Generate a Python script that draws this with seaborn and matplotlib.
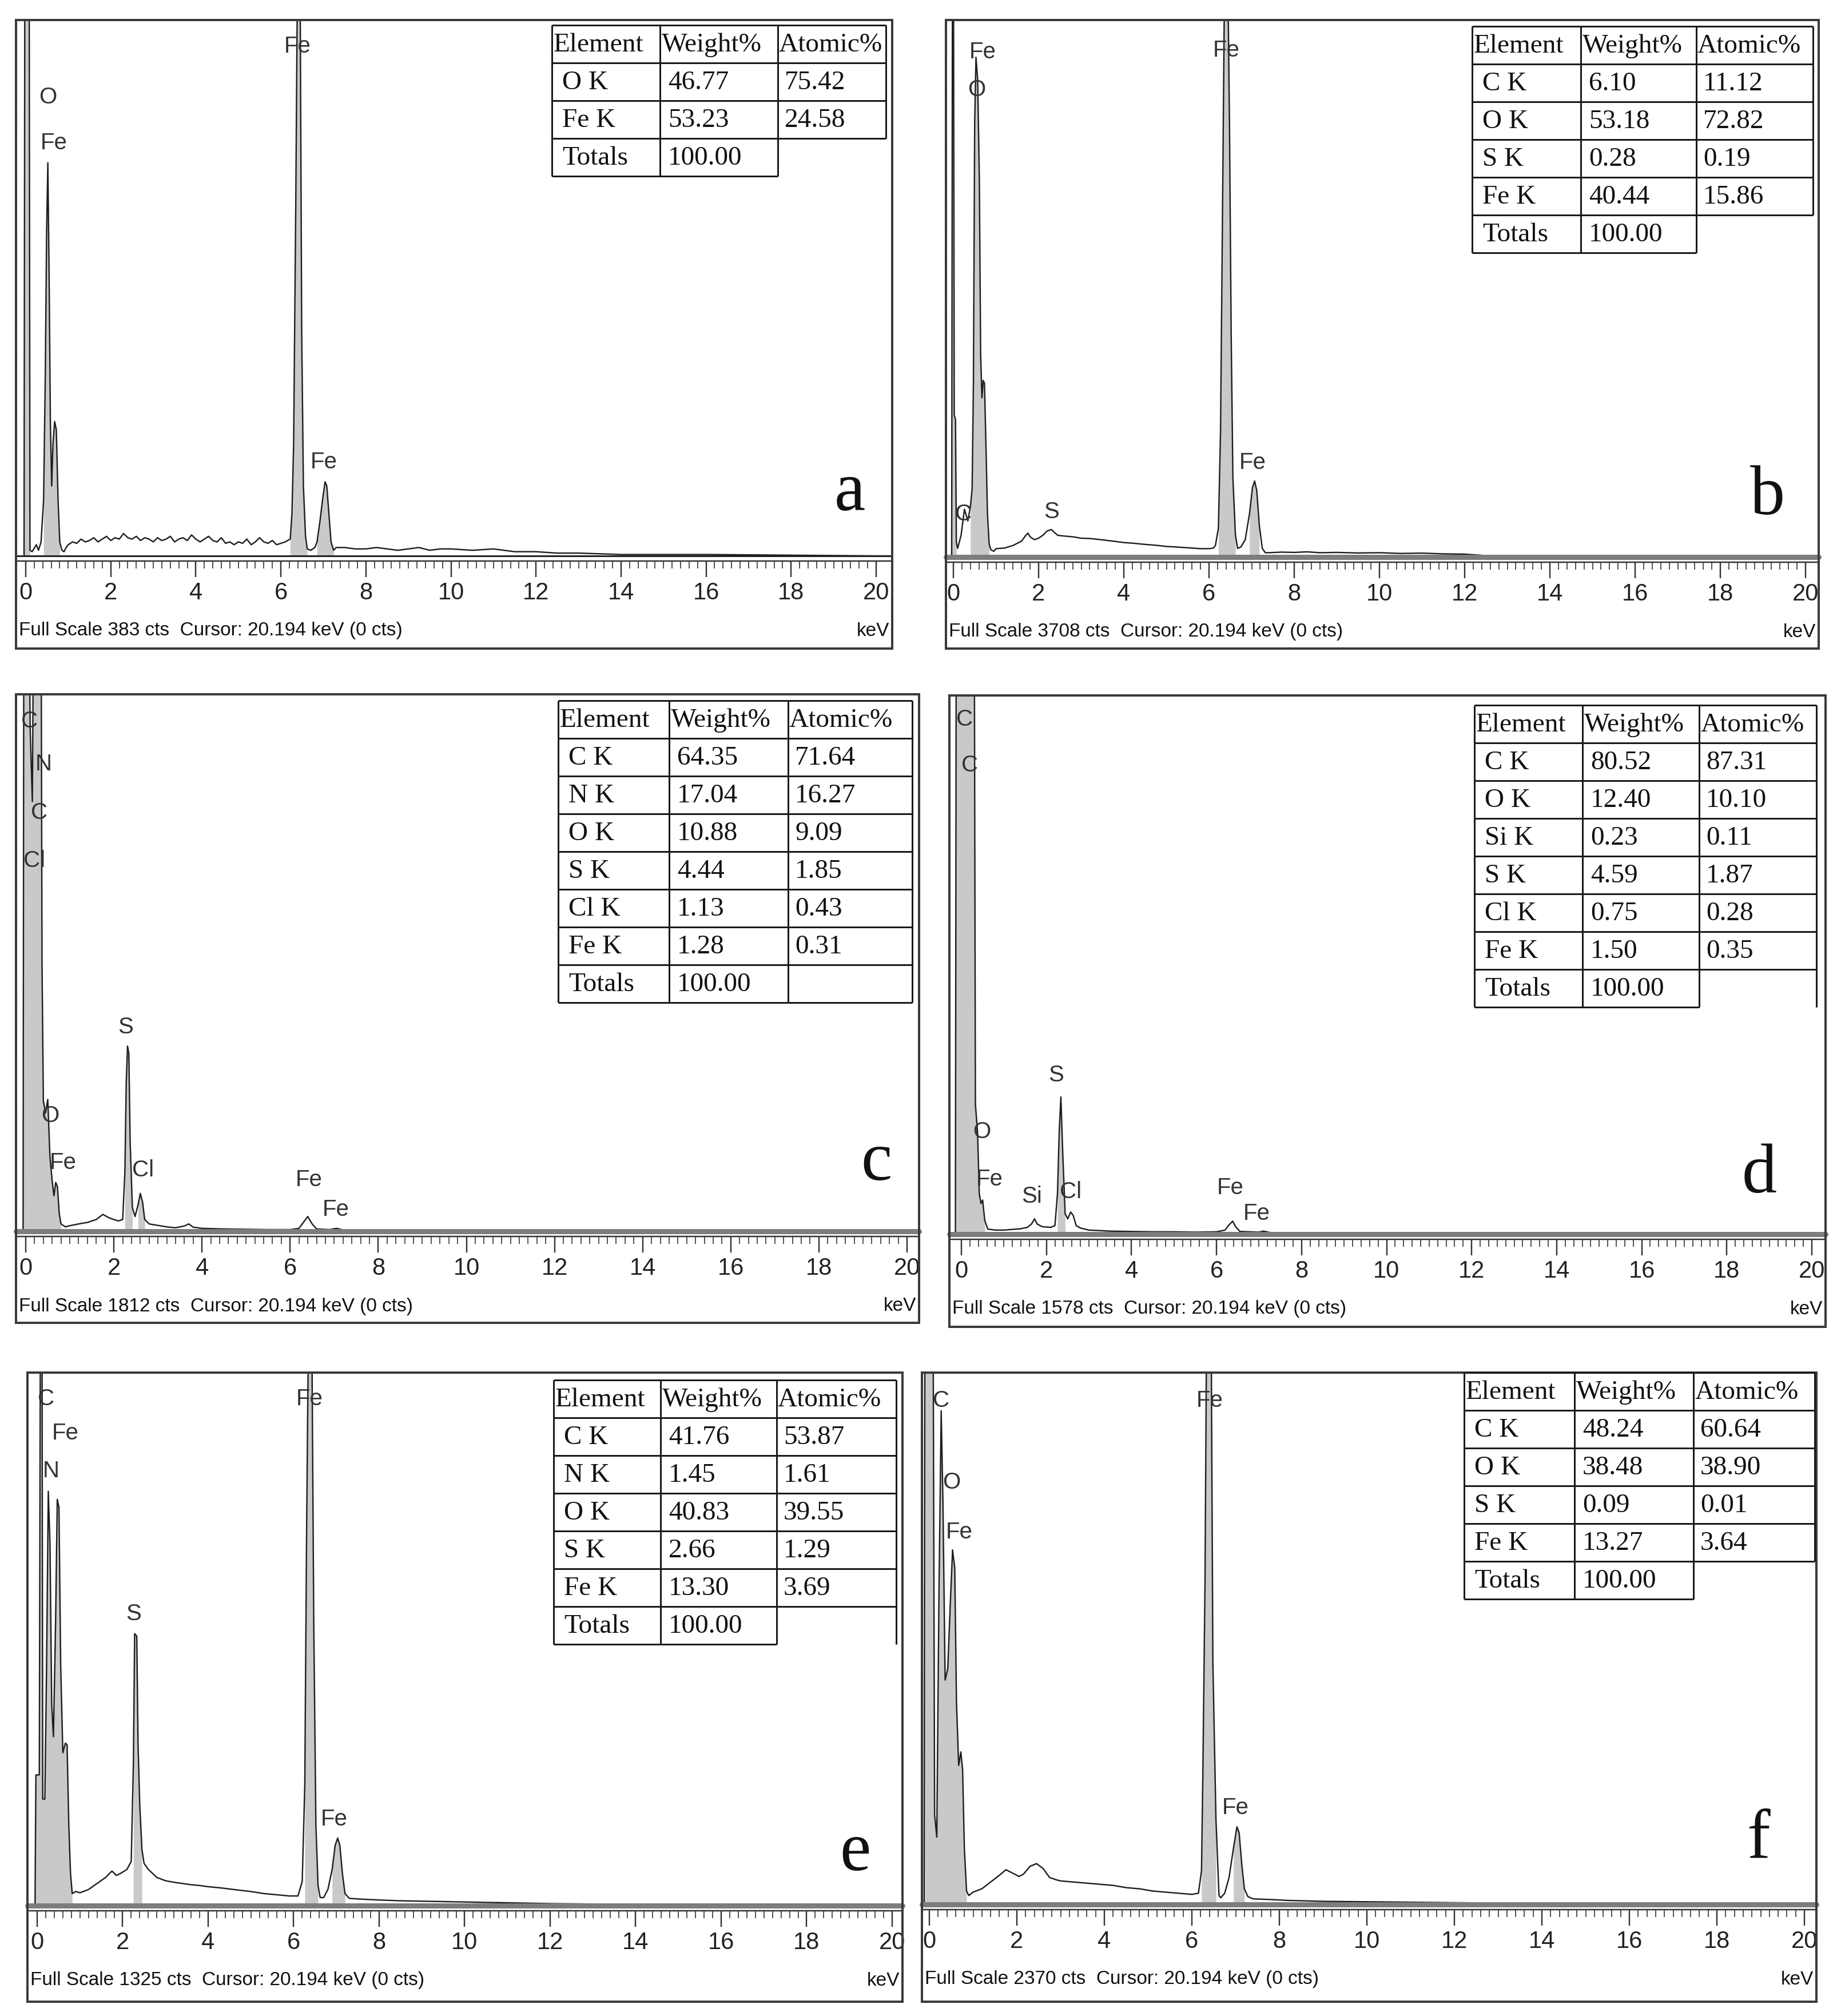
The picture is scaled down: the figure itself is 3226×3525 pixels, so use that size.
import numpy as np
import pandas as pd
import matplotlib
matplotlib.use("Agg")
import matplotlib.pyplot as plt
import seaborn as sns
from matplotlib.lines import Line2D
from matplotlib.patches import Rectangle
from matplotlib.ticker import FixedLocator
from matplotlib import font_manager

# ---------------- data ----------------
a_kev = [-0.04, -0.02, 0.08, 0.10, 0.15, 0.25, 0.30, 0.36, 0.42, 0.46, 0.49, 0.52, 0.55, 0.58, 0.61, 0.64, 0.68, 0.72, 0.76, 0.80, 0.85, 0.90, 0.95,
         1.0, 1.1, 1.2, 1.3, 1.4, 1.5, 1.6, 1.7, 1.8, 1.9, 2.0, 2.1, 2.2, 2.3, 2.4, 2.5, 2.6, 2.7, 2.8, 2.9,
         3.0, 3.1, 3.2, 3.3, 3.4, 3.5, 3.6, 3.7, 3.8, 3.9, 4.0, 4.1, 4.2, 4.3, 4.4, 4.5, 4.6, 4.7, 4.8, 4.9,
         5.0, 5.1, 5.2, 5.3, 5.4, 5.5, 5.6, 5.7, 5.8, 5.9, 6.0, 6.1,
         6.22, 6.26, 6.30, 6.35, 6.40, 6.45, 6.49, 6.53, 6.58, 6.62, 6.70, 6.80, 6.85, 6.92, 6.98, 7.04, 7.08, 7.13, 7.18, 7.24, 7.30,
         7.5, 7.75, 8.0, 8.25, 8.5, 8.75, 9.0, 9.25, 9.5, 9.75, 10.0, 10.5, 11.0, 11.5, 12.0, 12.5, 13.0, 14.0, 15.0, 16.0, 18.0, 20.0, 20.4]
a_cts = [0, 450, 450, 4, 3, 8, 4, 10, 40, 130, 230, 281, 200, 95, 50, 80, 96, 90, 40, 10, 4, 3, 6,
         8, 10, 9, 12, 10, 11, 13, 10, 12, 14, 11, 13, 12, 16, 13, 12, 14, 11, 13, 12,
         10, 13, 11, 12, 14, 10, 12, 13, 11, 15, 12, 10, 12, 14, 11, 10, 13, 9, 10, 8,
         10, 9, 12, 8, 10, 13, 10, 9, 11, 8, 9, 10,
         12, 30, 80, 250, 460, 430, 160, 50, 14, 5, 4, 6, 10, 25, 40, 53, 50, 30, 10, 4, 6,
         6, 5, 5, 6, 5, 4, 5, 6, 4, 5, 5, 4, 5, 3, 3, 2, 2, 1, 1, 1, 0.5, 0, 0]

b_kev = [-0.04, -0.02, 0.00, 0.02, 0.05, 0.07, 0.10, 0.18, 0.26, 0.34, 0.40, 0.44, 0.47, 0.50, 0.53, 0.57, 0.61, 0.64, 0.67, 0.70,
         0.73, 0.77, 0.80, 0.84, 0.88, 0.95,
         1.0, 1.2, 1.4, 1.6, 1.7, 1.75, 1.8, 1.9, 2.0, 2.1, 2.2, 2.3, 2.35, 2.45, 2.6, 2.8, 3.0, 3.2, 3.4, 3.6,
         3.8, 4.0, 4.2, 4.4, 4.6, 4.8, 5.0, 5.2, 5.4, 5.6, 5.8, 6.0, 6.1,
         6.15, 6.22, 6.27, 6.32, 6.37, 6.43, 6.48, 6.52, 6.56, 6.62, 6.67, 6.75, 6.85, 6.95, 7.02, 7.07, 7.12, 7.18, 7.25, 7.32,
         7.4, 7.7, 8.0, 8.3, 8.6, 9.0, 9.5, 10.0, 10.5, 11.0, 11.5, 12.0, 12.5, 13.0, 13.5, 14.0, 20.4]
b_cts = [0, 4500, 4500, 980, 950, 100, 60, 150, 330, 250, 350, 470, 1200, 3000, 3450, 3300, 2600, 1400, 1100, 1220,
         1200, 700, 300, 90, 50, 40,
         58, 62, 80, 110, 150, 165, 140, 120, 130, 150, 180, 190, 175, 150, 145, 140, 130, 128, 122, 115,
         108, 100, 96, 90, 85, 80, 73, 70, 66, 62, 58, 58, 62,
         80, 200, 870, 2500, 4200, 4300, 3000, 1540, 550, 150, 60, 70, 120, 300, 480, 525, 460, 220, 60, 30,
         30, 34, 32, 36, 30, 32, 28, 30, 25, 27, 22, 20, 10, 6, 3, 0, 0]

c_kev = [-0.06, -0.04, 0.05, 0.10, 0.15, 0.20, 0.34, 0.37, 0.40, 0.45, 0.50, 0.55, 0.60, 0.64, 0.68, 0.72, 0.76, 0.80, 0.90,
         1.0, 1.2, 1.4, 1.6, 1.75, 1.9, 2.1, 2.2, 2.25, 2.28, 2.31, 2.34, 2.37, 2.42, 2.48, 2.55, 2.60, 2.65, 2.70, 2.8,
         3.0, 3.2, 3.4, 3.6, 3.7, 3.8, 4.0, 4.5, 5.0, 5.5, 6.0, 6.2, 6.3, 6.4, 6.5, 6.6, 6.9, 7.05, 7.2, 7.5,
         8.0, 8.5, 9.0, 20.4]
c_cts = [0, 2600, 2600, 1700, 1450, 2600, 2600, 900, 440, 400, 445, 250, 170, 120, 165, 150, 60, 25, 15,
         19, 25, 30, 40, 57, 45, 35, 40, 200, 500, 625, 600, 300, 80, 50, 90, 128, 100, 40, 25,
         20, 15, 12, 18, 25, 14, 10, 8, 7, 6, 6, 10, 30, 50, 25, 8, 6, 10, 5, 3,
         2, 1, 0, 0]

d_kev = [-0.14, -0.12, 0.30, 0.33, 0.38, 0.42, 0.46, 0.50, 0.55, 0.62, 0.8, 1.0, 1.2, 1.4, 1.55, 1.65, 1.72, 1.78, 1.9, 2.1,
         2.2, 2.26, 2.30, 2.34, 2.38, 2.44, 2.5, 2.57, 2.63, 2.7, 2.8, 3.0, 3.5, 4.0, 4.5, 5.0, 5.5, 6.0, 6.2, 6.3,
         6.38, 6.45, 6.55, 7.0, 7.1, 7.3, 8.0, 9.0, 20.4]
d_cts = [0, 2000, 2000, 380, 300, 120, 90, 100, 40, 15, 12, 12, 14, 16, 20, 30, 45, 30, 22, 20,
         25, 120, 300, 402, 250, 60, 45, 65, 55, 25, 18, 12, 9, 8, 7, 7, 6, 7, 12, 28,
         38, 22, 8, 6, 9, 4, 2, 0, 0]

e_kev = [-0.05, -0.03, 0.05, 0.08, 0.11, 0.13, 0.18, 0.22, 0.26, 0.30, 0.34, 0.38, 0.43, 0.47, 0.51, 0.55, 0.60, 0.66, 0.70, 0.74,
         0.78, 0.82, 0.9,
         1.0, 1.2, 1.4, 1.6, 1.75, 1.85, 1.95, 2.1, 2.2, 2.25, 2.28, 2.33, 2.36, 2.40, 2.45, 2.5, 2.6, 2.8, 3.0, 3.2,
         3.4, 3.6, 3.8, 4.0, 4.3, 4.6, 5.0, 5.3, 5.6, 5.9, 6.1,
         6.2, 6.26, 6.3, 6.35, 6.42, 6.47, 6.52, 6.57, 6.62, 6.7, 6.8, 6.9, 6.97, 7.03, 7.08, 7.14, 7.2, 7.3,
         7.6, 8.0, 8.5, 9.0, 9.5, 10.0, 11.0, 12.0, 13.0, 14.0, 15.0, 16.0, 20.4]
e_cts = [0, 325, 325, 1700, 1700, 265, 265, 600, 1030, 900, 500, 420, 700, 1010, 990, 600, 380, 404, 400, 200,
         80, 30, 35,
         32, 40, 55, 70, 86, 75, 80, 90, 110, 350, 676, 670, 400, 250, 140, 105, 90, 70, 62, 58,
         55, 52, 50, 47, 44, 40, 35, 30, 27, 24, 24,
         60, 300, 900, 1500, 1500, 700, 200, 50, 20, 20, 40, 90, 150, 168, 150, 80, 30, 18,
         16, 14, 12, 11, 10, 9, 7, 5, 4, 2, 1, 0, 0]

f_kev = [-0.12, -0.10, 0.08, 0.12, 0.17, 0.22, 0.27, 0.31, 0.36, 0.42, 0.47, 0.53, 0.58, 0.62, 0.67, 0.72, 0.76, 0.80, 0.85, 0.9,
         1.0, 1.2, 1.4, 1.6, 1.75, 1.9, 2.05, 2.15, 2.3, 2.45, 2.6, 2.75, 2.9, 3.0, 3.3, 3.6, 3.9, 4.2, 4.5, 4.8,
         5.1, 5.4, 5.7, 6.0, 6.15,
         6.22, 6.25, 6.30, 6.35, 6.43, 6.48, 6.55, 6.62, 6.66, 6.75, 6.85, 6.95, 7.03, 7.08, 7.14, 7.2, 7.28,
         7.4, 7.8, 8.2, 8.6, 9.0, 10.0, 11.0, 12.0, 13.0, 14.0, 14.2, 20.4]
f_cts = [0, 3000, 3000, 400, 300, 1400, 2200, 1800, 1000, 1050, 1300, 1580, 1500, 900, 620, 680, 600, 250, 60, 40,
         55, 70, 100, 130, 155, 140, 125, 135, 170, 182, 160, 120, 110, 105, 100, 95, 90, 85, 75, 70,
         60, 55, 50, 45, 50,
         150, 570, 1430, 3000, 3000, 1080, 383, 40, 30, 50, 120, 250, 346, 320, 180, 70, 35,
         25, 22, 18, 16, 14, 12, 10, 8, 6, 3, 0, 0]

full_scale = {"a": 383, "b": 3708, "c": 1812, "d": 1578, "e": 1325, "f": 2370}

a_labels = [("Fe", 6.39, 364), ("O", 0.52, 328), ("Fe", 0.66, 295), ("Fe", 7.01, 67)]
b_labels = [("Fe", 0.69, 3486), ("O", 0.55, 3226), ("Fe", 6.40, 3500), ("Fe", 7.02, 652), ("S", 2.30, 311), ("C", 0.23, 297)]
c_labels = [("C", 0.08, 1721), ("N", 0.40, 1576), ("C", 0.30, 1413), ("Cl", 0.20, 1250), ("O", 0.55, 390),
            ("Fe", 0.84, 232), ("S", 2.27, 689), ("Cl", 2.66, 206), ("Fe", 6.43, 174), ("Fe", 7.04, 73)]
d_labels = [("C", 0.07, 1507), ("C", 0.20, 1373), ("O", 0.48, 300), ("Fe", 0.66, 160), ("Si", 1.65, 110),
            ("S", 2.23, 465), ("Cl", 2.57, 124), ("Fe", 6.33, 136), ("Fe", 6.94, 60)]
e_labels = [("C", 0.21, 1260), ("Fe", 0.66, 1175), ("N", 0.32, 1080), ("S", 2.25, 725), ("Fe", 6.37, 1260), ("Fe", 6.94, 215)]
f_labels = [("C", 0.27, 2245), ("O", 0.50, 1880), ("Fe", 0.68, 1660), ("Fe", 6.41, 2245), ("Fe", 7.00, 430)]

# peak regions shaded grey (keV ranges)
a_roi = [(-0.04, 0.10), (0.42, 0.80), (6.22, 6.62), (6.85, 7.24)]
b_roi = [(-0.04, 0.07), (0.40, 0.84), (6.22, 6.62), (6.95, 7.20)]
c_roi = [(-0.06, 0.80), (2.22, 2.45), (2.55, 2.70)]
d_roi = [(-0.14, 0.55), (2.26, 2.44)]
e_roi = [(-0.05, 0.82), (2.22, 2.45), (6.22, 6.57), (6.90, 7.20)]
f_roi = [(-0.12, 0.85), (6.22, 6.60), (6.90, 7.20)]

table_header = ["Element", "Weight%", "Atomic%"]
a_elem = ["O K", "Fe K"]
a_wt = ["46.77", "53.23"]
a_at = ["75.42", "24.58"]
b_elem = ["C K", "O K", "S K", "Fe K"]
b_wt = ["6.10", "53.18", "0.28", "40.44"]
b_at = ["11.12", "72.82", "0.19", "15.86"]
c_elem = ["C K", "N K", "O K", "S K", "Cl K", "Fe K"]
c_wt = ["64.35", "17.04", "10.88", "4.44", "1.13", "1.28"]
c_at = ["71.64", "16.27", "9.09", "1.85", "0.43", "0.31"]
d_elem = ["C K", "O K", "Si K", "S K", "Cl K", "Fe K"]
d_wt = ["80.52", "12.40", "0.23", "4.59", "0.75", "1.50"]
d_at = ["87.31", "10.10", "0.11", "1.87", "0.28", "0.35"]
e_elem = ["C K", "N K", "O K", "S K", "Fe K"]
e_wt = ["41.76", "1.45", "40.83", "2.66", "13.30"]
e_at = ["53.87", "1.61", "39.55", "1.29", "3.69"]
f_elem = ["C K", "O K", "S K", "Fe K"]
f_wt = ["48.24", "38.48", "0.09", "13.27"]
f_at = ["60.64", "38.90", "0.01", "3.64"]
totals_value = "100.00"

tick_values = [0, 2, 4, 6, 8, 10, 12, 14, 16, 18, 20]

# ---------------- style ----------------
sns.set_theme(style="white")
names = {f.name for f in font_manager.fontManager.ttflist}
NARROW = "Liberation Sans Narrow" if "Liberation Sans Narrow" in names else (
    "DejaVu Sans Condensed" if "DejaVu Sans Condensed" in names else "Liberation Sans")
SERIF = "Liberation Serif"
plt.rcParams["font.family"] = [NARROW, "DejaVu Sans"]

W, H, DPI = 3226, 3525, 100
PT = 72.0 / DPI
fig = plt.figure(figsize=(W / DPI, H / DPI), dpi=DPI, facecolor="white")


def fx(x):
    return x / W


def fy(y):
    return 1 - y / H


def fline(xs, ys, lw=3, color="#1a1a1a"):
    fig.add_artist(Line2D([fx(v) for v in xs], [fy(v) for v in ys], transform=fig.transFigure,
                          lw=lw * PT, color=color, solid_capstyle="butt", zorder=10))


def draw_table(cols, top, elems, wts, ats, totals_style, rowh=66):
    rows = [table_header] + [[e, w, a] for e, w, a in zip(elems, wts, ats)] + [["Totals", totals_value, ""]]
    n = len(rows)
    ys = [top + i * rowh for i in range(n + 1)]
    for i in range(n):
        fline([cols[0], cols[3]], [ys[i], ys[i]])
    if totals_style == "full":
        fline([cols[0], cols[3]], [ys[n], ys[n]])
    else:
        fline([cols[0], cols[2]], [ys[n], ys[n]])
    for c in cols[:3]:
        fline([c, c], [ys[0], ys[n]])
    end = ys[n] if totals_style in ("full", "right") else ys[n - 1]
    fline([cols[3], cols[3]], [ys[0], end])
    for i, row in enumerate(rows):
        yc = (ys[i] + ys[i + 1]) / 2
        pads = [3, 3, 2] if i == 0 else [18, 14, 12]
        for j, txt in enumerate(row):
            if txt:
                fig.text(fx(cols[j] + pads[j]), fy(yc + 2), txt, family=SERIF, fontsize=34,
                         ha="left", va="center", color="#111", zorder=11)


def draw_panel(letter, kev, cts, labels, roi, box, base, x0, x20, table, letter_pos, base_style):
    L, R, T, B = box
    fs = full_scale[letter]
    fig.add_artist(Rectangle((fx(L), fy(B)), fx(R) - fx(L), fy(T) - fy(B), transform=fig.transFigure,
                             fill=False, lw=4 * PT, ec="#3a3a3a", zorder=9))
    ax = fig.add_axes([fx(L), fy(base), fx(R) - fx(L), fy(T) - fy(base)])
    ax.patch.set_alpha(0)
    s = (x20 - x0) / 20.0
    ax.set_xlim((L - x0) / s, (R - x0) / s)
    ax.set_ylim(0, fs)

    df = pd.DataFrame({"keV": kev, "counts": cts})
    xk = np.array(kev, dtype=float)
    yc = np.array(cts, dtype=float)
    for lo, hi in roi:
        m = (xk >= lo) & (xk <= hi)
        ax.fill_between(xk, 0, yc, where=m, color="#c9c9c9", lw=0, zorder=1)
    sns.lineplot(data=df, x="keV", y="counts", ax=ax, color="#1e1e1e", linewidth=2.4 * PT,
                 sort=False, estimator=None, legend=False, zorder=3)

    for txt, kx, ky in labels:
        ax.text(kx, ky, txt, fontsize=29, ha="center", va="center", color="#333", clip_on=False, zorder=6)

    for sp in ["left", "right", "top"]:
        ax.spines[sp].set_visible(False)
    ax.spines["bottom"].set_position(("outward", 9 * PT))
    ax.spines["bottom"].set_color("#333")
    ax.spines["bottom"].set_linewidth(2.5 * PT)
    ax.set_yticks([])
    ax.xaxis.set_major_locator(FixedLocator(tick_values))
    ax.xaxis.set_minor_locator(FixedLocator(np.round(np.arange(0, 20.01, 0.2), 2)))
    ax.tick_params(axis="x", which="major", direction="out", length=28 * PT, width=2.4 * PT,
                   color="#333", labelsize=30, pad=6, labelcolor="#222", bottom=True)
    ax.tick_params(axis="x", which="minor", direction="out", length=13 * PT, width=2.0 * PT,
                   color="#555", bottom=True)
    ax.set_xlabel("")
    ax.set_ylabel("")
    if base_style == "thin":
        ax.axhline(0, color="#222", lw=3 * PT, clip_on=False, zorder=4)
    else:
        ax.axhline(0, color="#7d7d7d", lw=9 * PT, clip_on=False, zorder=4)

    fig.text(fx(L + 5), fy(base + 131), f"Full Scale {fs} cts  Cursor: 20.194 keV (0 cts)",
             fontsize=24, ha="left", va="center", color="#111")
    fig.text(fx(R - 5), fy(base + 131), "keV", fontsize=24, ha="right", va="center", color="#111")

    cols, top, elems, wts, ats, style = table
    draw_table(cols, top, elems, wts, ats, style)
    fig.text(fx(letter_pos[0]), fy(letter_pos[1]), letter, family=SERIF, fontsize=88,
             ha="center", va="baseline", color="#111")


draw_panel("a", a_kev, a_cts, a_labels, a_roi, (28, 1560, 35, 1134), 972, 45, 1532,
           ([965, 1154, 1360, 1549], 44, a_elem, a_wt, a_at, "none"), (1486, 892), "thin")
draw_panel("b", b_kev, b_cts, b_labels, b_roi, (1654, 3180, 35, 1134), 974, 1667, 3157,
           ([2574, 2764, 2966, 3170], 46, b_elem, b_wt, b_at, "none"), (3091, 899), "band")
draw_panel("c", c_kev, c_cts, c_labels, c_roi, (28, 1607, 1214, 2313), 2153, 45, 1586,
           ([976, 1170, 1378, 1595], 1225, c_elem, c_wt, c_at, "full"), (1532, 2063), "band")
draw_panel("d", d_kev, d_cts, d_labels, d_roi, (1660, 3192, 1216, 2320), 2158, 1681, 3168,
           ([2578, 2767, 2971, 3176], 1233, d_elem, d_wt, d_at, "right"), (3076, 2085), "band")
draw_panel("e", e_kev, e_cts, e_labels, e_roi, (48, 1578, 2400, 3500), 3332, 65, 1560,
           ([968, 1155, 1358, 1567], 2413, e_elem, e_wt, e_at, "right"), (1495, 3270), "band")
draw_panel("f", f_kev, f_cts, f_labels, f_roi, (1612, 3176, 2400, 3500), 3330, 1625, 3155,
           ([2560, 2753, 2961, 3173], 2400, f_elem, f_wt, f_at, "none"), (3075, 3248), "band")

fig.savefig("out.png", dpi=DPI, facecolor="white")
